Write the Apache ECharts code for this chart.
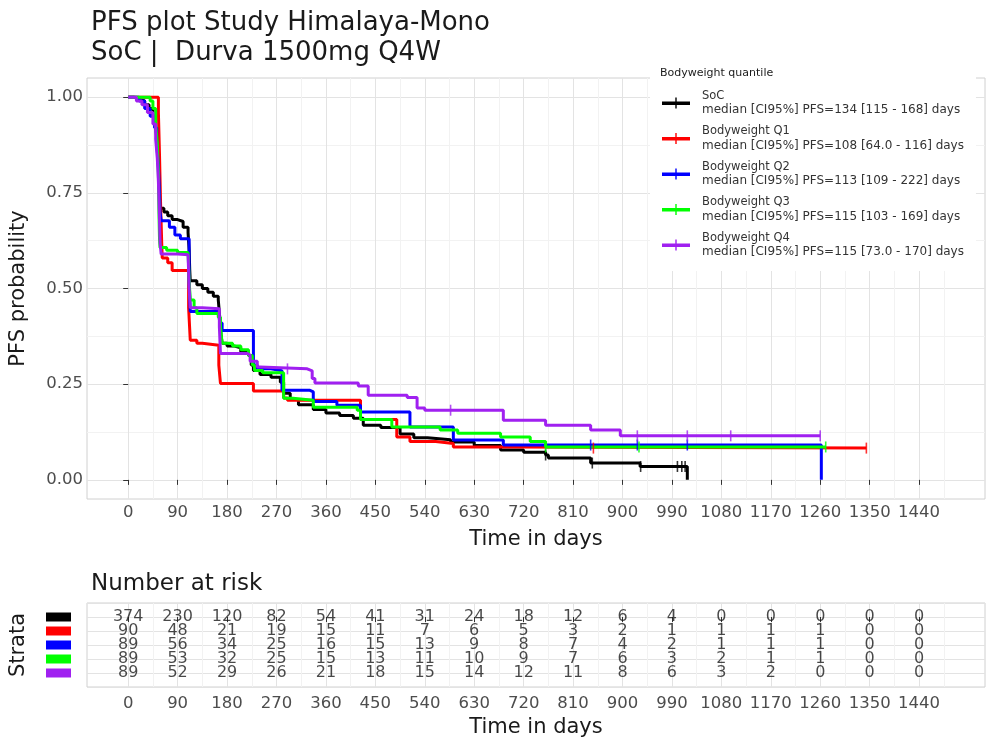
<!DOCTYPE html>
<html><head><meta charset="utf-8">
<script src="https://cdn.jsdelivr.net/npm/echarts@6/dist/echarts.min.js"></script>
<style>html,body{margin:0;padding:0;background:#fff}#c{width:992px;height:739px}</style>
</head><body><div id="c"></div><script>
// ---------------- DATA ----------------
const strataNames = ['SoC', 'Bodyweight Q1', 'Bodyweight Q2', 'Bodyweight Q3', 'Bodyweight Q4'];
const medianTexts = [
  'median [CI95%] PFS=134 [115 - 168] days',
  'median [CI95%] PFS=108 [64.0 - 116] days',
  'median [CI95%] PFS=113 [109 - 222] days',
  'median [CI95%] PFS=115 [103 - 169] days',
  'median [CI95%] PFS=115 [73.0 - 170] days'
];
const xTicks = [0, 90, 180, 270, 360, 450, 540, 630, 720, 810, 900, 990, 1080, 1170, 1260, 1350, 1440];
const xMinorTicks = [45, 135, 225, 315, 405, 495, 585, 675, 765, 855, 945, 1035, 1125, 1215, 1305, 1395, 1485];
const yTicks = [0, 0.25, 0.5, 0.75, 1];
const yMinorTicks = [0.125, 0.375, 0.625, 0.875];

const curveSoC = [[0,1],[10,0.995],[20,0.99],[30,0.98],[38,0.97],[45,0.95],[50,0.92],[53,0.88],[55,0.83],[56,0.78],[57,0.74],[58,0.71],[65,0.70],[72,0.69],[80,0.68],[90,0.675],[100,0.66],[109,0.646],[111,0.60],[112,0.55],[113,0.52],[125,0.51],[135,0.50],[145,0.49],[155,0.48],[164,0.47],[167,0.42],[169,0.38],[171,0.357],[180,0.35],[192,0.345],[205,0.335],[219,0.325],[224,0.30],[228,0.286],[240,0.275],[260,0.268],[277,0.255],[283,0.226],[295,0.21],[310,0.196],[337,0.184],[360,0.175],[385,0.168],[410,0.161],[428,0.143],[460,0.137],[495,0.12],[520,0.11],[545,0.105],[587,0.099],[630,0.09],[678,0.078],[720,0.072],[760,0.065],[765,0.057],[842,0.044],[932,0.035],[1018,0]];
const curveQ1 = [[0,1],[55,0.96],[57,0.85],[59,0.72],[61,0.62],[62,0.58],[72,0.567],[80,0.547],[110,0.45],[113,0.365],[125,0.357],[135,0.352],[165,0.30],[168,0.252],[228,0.232],[283,0.214],[290,0.208],[423,0.158],[489,0.112],[513,0.10],[560,0.095],[592,0.086],[700,0.083],[1344,0.083]];
const curveQ2 = [[0,1],[20,0.99],[30,0.97],[40,0.95],[48,0.92],[52,0.88],[55,0.82],[57,0.75],[58,0.70],[60,0.677],[75,0.66],[85,0.64],[95,0.63],[111,0.52],[113,0.44],[164,0.437],[167,0.41],[171,0.39],[228,0.30],[235,0.29],[260,0.285],[280,0.234],[331,0.23],[337,0.205],[380,0.195],[423,0.177],[513,0.138],[592,0.104],[683,0.091],[1262,0]];
const curveQ3 = [[0,1],[40,0.99],[45,0.97],[50,0.93],[53,0.88],[55,0.80],[56,0.70],[57,0.63],[58,0.607],[70,0.60],[90,0.594],[109,0.59],[111,0.52],[113,0.47],[120,0.45],[125,0.435],[164,0.425],[168,0.40],[171,0.357],[190,0.35],[205,0.34],[219,0.325],[226,0.30],[230,0.286],[245,0.28],[283,0.213],[300,0.208],[337,0.19],[417,0.182],[423,0.158],[480,0.138],[568,0.13],[600,0.122],[678,0.112],[732,0.10],[760,0.086],[1270,0.086]];
const curveQ4 = [[0,1],[15,0.99],[25,0.98],[35,0.96],[45,0.93],[50,0.89],[53,0.84],[55,0.78],[57,0.68],[58,0.62],[60,0.59],[90,0.588],[109,0.586],[111,0.50],[113,0.45],[135,0.447],[166,0.40],[168,0.33],[217,0.326],[222,0.31],[235,0.295],[240,0.29],[326,0.285],[335,0.265],[340,0.253],[419,0.245],[437,0.221],[508,0.215],[526,0.188],[540,0.182],[683,0.156],[760,0.143],[842,0.13],[896,0.115],[1260,0.115]];

const censorSoC = [760, 845, 933, 1000, 1008, 1014];
const censorQ1 = [847, 1344];
const censorQ2 = [842, 927, 1018];
const censorQ3 = [760, 930, 1270];
const censorQ4 = [290, 587, 927, 1018, 1097, 1260];

const riskTimes = [0, 90, 180, 270, 360, 450, 540, 630, 720, 810, 900, 990, 1080, 1170, 1260, 1350, 1440];
const riskSoC = [374, 230, 120, 82, 54, 41, 31, 24, 18, 12, 6, 4, 0, 0, 0, 0, 0];
const riskQ1 = [90, 48, 21, 19, 15, 11, 7, 6, 5, 3, 2, 1, 1, 1, 1, 0, 0];
const riskQ2 = [89, 56, 34, 25, 16, 15, 13, 9, 8, 7, 4, 2, 1, 1, 1, 0, 0];
const riskQ3 = [89, 53, 32, 25, 15, 13, 11, 10, 9, 7, 6, 3, 2, 1, 1, 0, 0];
const riskQ4 = [89, 52, 29, 26, 21, 18, 15, 14, 12, 11, 8, 6, 3, 2, 0, 0, 0];

// ---------------- STYLE ----------------
const colors = ['#000000', '#ff0000', '#0000ff', '#00ff00', '#a020f0'];
const FONT = 'DejaVu Sans';
const curves = [curveSoC, curveQ1, curveQ2, curveQ3, curveQ4];
const censors = [censorSoC, censorQ1, censorQ2, censorQ3, censorQ4];
const risks = [riskSoC, riskQ1, riskQ2, riskQ3, riskQ4];

function valAt(curve, t) {
  let v = curve[0][1];
  for (const p of curve) { if (p[0] <= t) v = p[1]; else break; }
  return v;
}

const XMIN = -75, XMAX = 1560;
const majorGrid = '#e3e3e3', minorGrid = '#f2f2f2';

function xMajor(grid, margin, gap) {
  return {
    type: 'value', gridIndex: grid, min: XMIN, max: XMAX,
    axisLine: { show: false },
    axisTick: { show: true, length: 5, customValues: xTicks, lineStyle: { color: '#333', width: 1 } },
    axisLabel: { customValues: xTicks, formatter: v => String(v), color: '#4d4d4d', fontSize: 16.5, fontFamily: FONT, margin: margin },
    splitLine: { show: true, lineStyle: { color: majorGrid, width: 1 } },
    name: 'Time in days', nameLocation: 'middle', nameGap: gap,
    nameTextStyle: { fontSize: 21, color: '#1a1a1a', fontFamily: FONT }
  };
}
function xMinor(grid) {
  return {
    type: 'value', gridIndex: grid, min: XMIN, max: XMAX,
    axisLine: { show: false }, axisLabel: { show: false },
    axisTick: { show: false, customValues: xMinorTicks },
    splitLine: { show: true, lineStyle: { color: minorGrid, width: 1 } }
  };
}

const series = [];
curves.forEach((c, i) => {
  series.push({
    name: strataNames[i], type: 'line', step: 'end', xAxisIndex: 0, yAxisIndex: 0,
    data: c, showSymbol: false, symbol: 'none', color: colors[i],
    lineStyle: { width: 3, color: colors[i] }, z: 3 + i * 0.01, animation: false
  });
});
censors.forEach((cs, i) => {
  series.push({
    name: strataNames[i] + ' censor', type: 'scatter', xAxisIndex: 0, yAxisIndex: 0,
    data: cs.map(t => [t, valAt(curves[i], t)]),
    symbol: 'rect', symbolSize: [1.6, 11], itemStyle: { color: colors[i] }, z: 4, animation: false
  });
});
const riskData = [];
risks.forEach((r, ri) => r.forEach((v, ti) => riskData.push([riskTimes[ti], ri, v])));
series.push({
  name: 'risk', type: 'scatter', xAxisIndex: 2, yAxisIndex: 2, data: riskData,
  symbolSize: 2, itemStyle: { color: 'rgba(0,0,0,0)' },
  label: { show: true, position: 'inside', formatter: p => String(p.value[2]), color: '#1a1a1a', fontSize: 16, fontFamily: FONT },
  animation: false
});

const rich = {};
colors.forEach((c, i) => { rich['k' + i] = { backgroundColor: c, width: 25, height: 9 }; });

const option = {
  backgroundColor: '#ffffff',
  animation: false,
  title: [
    { text: 'PFS plot Study Himalaya-Mono\nSoC |  Durva 1500mg Q4W', left: 86, top: 3,
      textStyle: { fontFamily: FONT, fontSize: 26, fontWeight: 'normal', color: '#1a1a1a', lineHeight: 30 } },
    { text: 'Number at risk', left: 86, top: 568,
      textStyle: { fontFamily: FONT, fontSize: 23, fontWeight: 'normal', color: '#1a1a1a' } }
  ],
  grid: [
    { left: 87, right: 7, top: 78, height: 421, show: true, borderColor: '#d0d0d0', borderWidth: 1, backgroundColor: '#fff' },
    { left: 87, right: 7, top: 603, height: 84, show: true, borderColor: '#d0d0d0', borderWidth: 1, backgroundColor: '#fff' }
  ],
  xAxis: [xMajor(0, 5, 30), xMinor(0), xMajor(1, 8, 30), xMinor(1)],
  yAxis: [
    { type: 'value', gridIndex: 0, min: -0.05, max: 1.05,
      axisLine: { show: false },
      axisTick: { show: true, length: 5, customValues: yTicks, lineStyle: { color: '#333' } },
      axisLabel: { customValues: yTicks, formatter: v => v.toFixed(2), color: '#4d4d4d', fontSize: 16.5, fontFamily: FONT, margin: 4 },
      splitLine: { show: true, lineStyle: { color: majorGrid } },
      name: 'PFS probability', nameLocation: 'middle', nameGap: 58,
      nameTextStyle: { fontSize: 21, color: '#1a1a1a', fontFamily: FONT } },
    { type: 'value', gridIndex: 0, min: -0.05, max: 1.05,
      axisLine: { show: false }, axisLabel: { show: false },
      axisTick: { show: false, customValues: yMinorTicks },
      splitLine: { show: true, lineStyle: { color: minorGrid } } },
    { type: 'value', gridIndex: 1, min: -1, max: 5, interval: 1, inverse: true,
      axisLine: { show: false }, axisTick: { show: false },
      axisLabel: { formatter: v => (v >= 0 && v <= 4) ? '{k' + v + '|}' : '', rich: rich, margin: 16 },
      splitLine: { show: true, lineStyle: { color: majorGrid } },
      name: 'Strata', nameLocation: 'middle', nameGap: 58,
      nameTextStyle: { fontSize: 21, color: '#1a1a1a', fontFamily: FONT } }
  ],
  legend: {
    data: strataNames, orient: 'vertical', left: 650, top: 62,
    padding: [27, 12, 12, 12], backgroundColor: '#ffffff', itemGap: 7.5,
    itemWidth: 28, itemHeight: 11,
    icon: 'path://M0,4 L28,4 L28,7.5 L0,7.5 Z M13.3,0 L14.7,0 L14.7,11 L13.3,11 Z',
    formatter: name => '{n|' + name + '}\n{m|' + medianTexts[strataNames.indexOf(name)] + '}',
    textStyle: { padding: [0, 0, 0, 7], lineHeight: 14, rich: {
      n: { fontFamily: FONT, fontSize: 11.5, color: '#333', lineHeight: 14 },
      m: { fontFamily: FONT, fontSize: 12, color: '#333', lineHeight: 14 } } },
    selectedMode: false
  },
  graphic: [
    { type: 'text', left: 660, top: 68, z: 100,
      style: { text: 'Bodyweight quantile', fontFamily: FONT, fontSize: 11, fill: '#1a1a1a' } }
  ],
  series: series
};
const chart = echarts.init(document.getElementById('c'), null, { renderer: 'canvas' });
chart.setOption(option);
</script></body></html>
